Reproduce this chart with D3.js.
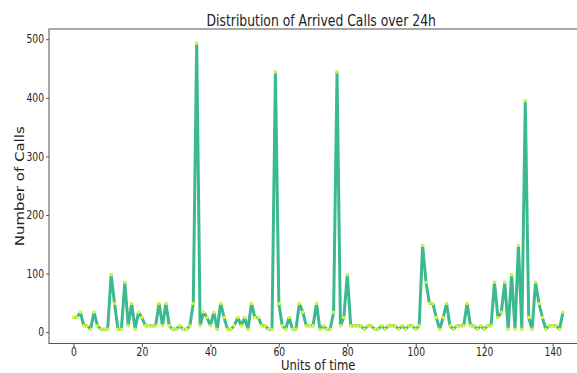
<!DOCTYPE html>
<html>
<head>
<meta charset="utf-8">
<script src="https://cdn.jsdelivr.net/npm/d3@7"></script>
<style>
  html, body { margin: 0; padding: 0; background: #fff; }
  svg { display: block; }
  text { font-family: "DejaVu Sans", sans-serif; fill: #222; }
</style>
</head>
<body>
<svg id="chart" width="577" height="373"></svg>
<script>
// Calls arriving in each 10-minute slot of the day (144 slots)
const slots = d3.range(144);
const calls = [
  25, 25, 34, 11, 11, 5, 34, 11, 5, 5,
  5, 98, 49, 5, 5, 85, 11, 49, 5, 34,
  25, 11, 11, 11, 11, 49, 11, 49, 11, 5,
  5, 11, 5, 5, 11, 49, 493, 11, 34, 25,
  11, 34, 5, 49, 25, 5, 5, 11, 25, 11,
  25, 5, 49, 25, 25, 11, 11, 5, 5, 444,
  49, 11, 5, 25, 5, 5, 49, 34, 11, 11,
  11, 49, 5, 11, 5, 5, 34, 444, 11, 25,
  98, 11, 11, 11, 11, 5, 11, 11, 5, 5,
  11, 5, 11, 11, 11, 5, 11, 5, 11, 11,
  5, 11, 148, 85, 49, 49, 25, 5, 25, 49,
  11, 5, 11, 11, 11, 49, 11, 11, 5, 11,
  5, 11, 11, 85, 25, 34, 85, 5, 98, 5,
  148, 5, 395, 25, 5, 85, 49, 25, 5, 11,
  11, 11, 5, 34
];
const xTicks = [0, 20, 40, 60, 80, 100, 120, 140];
const yTicks = [0, 100, 200, 300, 400, 500];

const titleText = "Distribution of Arrived Calls over 24h";
const xLabel = "Units of time";
const yLabel = "Number of Calls";

const svg = d3.select("#chart");
const SX = 0.8; // horizontal squeeze applied to all text

// plot box
const box = { l: 49, r: 587.4, t: 29, b: 343.5 };

// 5% padding on both axes
const xPad = 0.05 * (d3.max(slots) - d3.min(slots));
const yMin = d3.min(calls), yMax = d3.max(calls);
const yPad = 0.05 * (yMax - yMin);

const x = d3.scaleLinear()
  .domain([d3.min(slots) - xPad, d3.max(slots) + xPad])
  .range([box.l, box.r]);
const y = d3.scaleLinear()
  .domain([yMin - yPad, yMax + yPad])
  .range([box.b, box.t]);

// frame
svg.append("rect")
  .attr("x", box.l).attr("y", box.t)
  .attr("width", box.r - box.l).attr("height", box.b - box.t)
  .attr("fill", "none").attr("stroke", "#555").attr("stroke-width", 1);

// axes
const gx = svg.append("g")
  .attr("transform", `translate(0,${box.b})`)
  .call(d3.axisBottom(x).tickValues(xTicks).tickFormat(d3.format("d")).tickSizeOuter(0).tickSize(3.5).tickPadding(0.5));
gx.select(".domain").remove();
gx.selectAll(".tick line").attr("stroke", "#555");
gx.selectAll(".tick text")
  .attr("font-size", 11.5)
  .attr("fill", "#222")
  .attr("transform", `scale(${SX},1)`);

const gy = svg.append("g")
  .attr("transform", `translate(${box.l},0)`)
  .call(d3.axisLeft(y).tickValues(yTicks).tickFormat(d3.format("d")).tickSizeOuter(0).tickSize(3));
gy.select(".domain").remove();
gy.selectAll(".tick line").attr("stroke", "#555");
gy.selectAll(".tick text")
  .attr("font-size", 11.5)
  .attr("fill", "#222")
  .attr("x", -5 / SX)
  .attr("transform", `scale(${SX},1)`);

// series line
const line = d3.line()
  .x((d, i) => x(slots[i]))
  .y(d => y(d));

svg.append("path")
  .datum(calls)
  .attr("d", line)
  .attr("fill", "none")
  .attr("stroke", "#3bb98f")
  .attr("stroke-width", 3)
  .attr("stroke-linejoin", "round");

// markers
svg.append("g")
  .selectAll("circle")
  .data(calls)
  .join("circle")
  .attr("cx", (d, i) => x(slots[i]))
  .attr("cy", d => y(d))
  .attr("r", 1.7)
  .attr("fill", "#dcf23c");

// title and labels
const cx = (box.l + box.r) / 2;
svg.append("text")
  .attr("transform", `translate(${cx + 3},25.5) scale(${SX},1)`)
  .attr("text-anchor", "middle")
  .attr("font-size", 15.5)
  .text(titleText);

svg.append("text")
  .attr("transform", `translate(${cx},369.5) scale(${SX},1)`)
  .attr("text-anchor", "middle")
  .attr("font-size", 14.5)
  .text(xLabel);

svg.append("text")
  .attr("transform", `translate(23.5,${(box.t + box.b) / 2}) scale(${SX},1) rotate(-90)`)
  .attr("text-anchor", "middle")
  .attr("font-size", 15)
  .text(yLabel);
</script>
</body>
</html>
